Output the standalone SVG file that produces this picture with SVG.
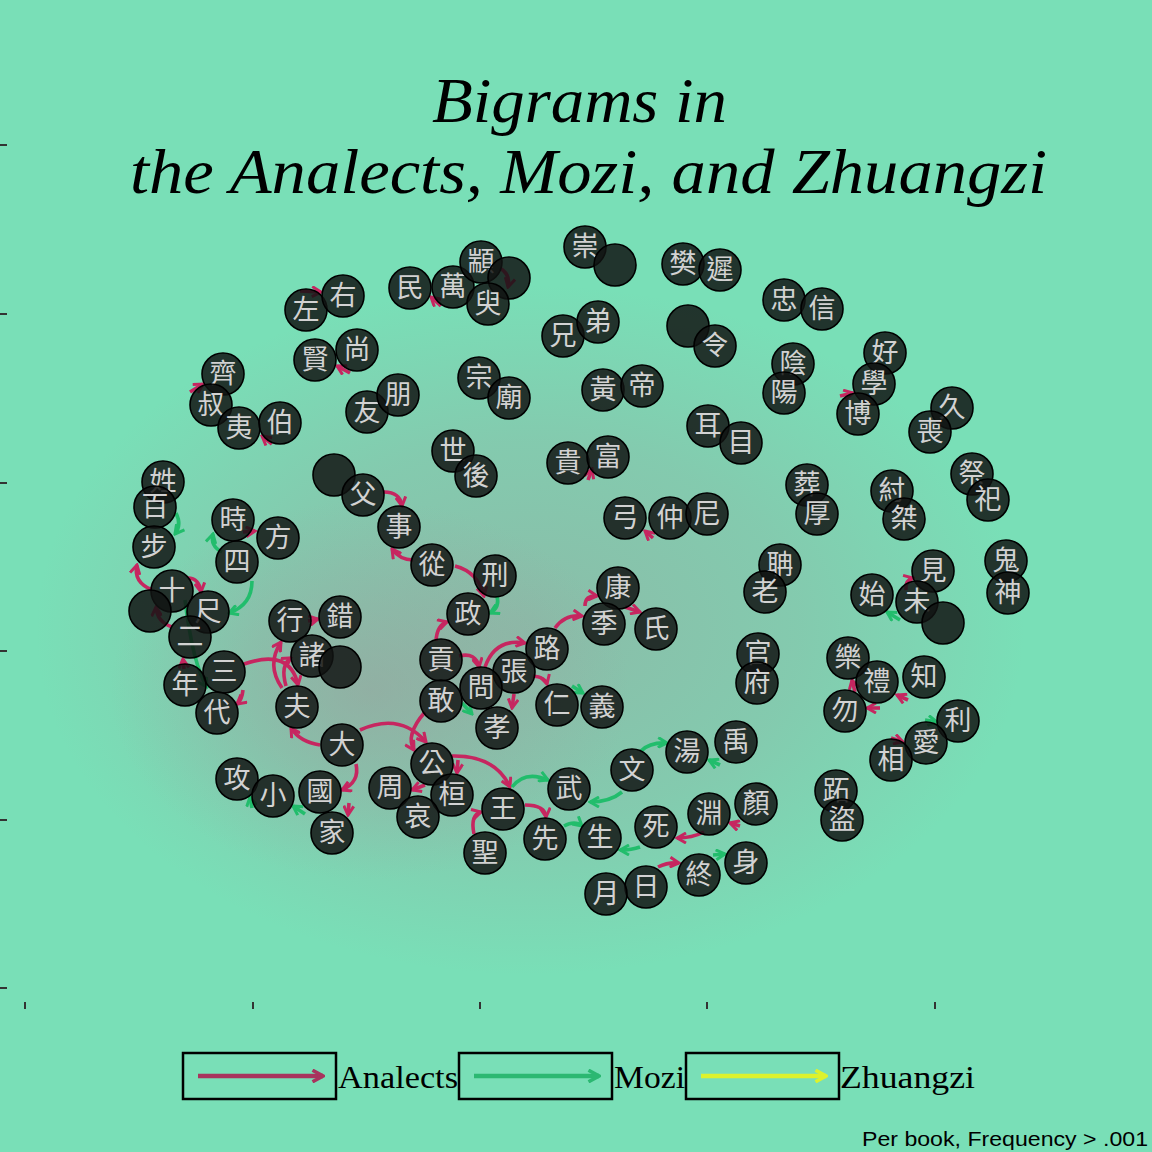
<svg xmlns="http://www.w3.org/2000/svg" width="1152" height="1152" viewBox="0 0 1152 1152">
<style>
.bg{fill:#79dfb7}
.n circle{fill:#111312;fill-opacity:0.84;stroke:#000;stroke-width:1.6}
.n text{font-family:"Noto Sans CJK TC","Noto Sans CJK JP",sans-serif;font-size:27px;fill:#d2d2d2;text-anchor:middle}
.e path{fill:none;stroke-width:3.6}
.e .r{stroke:#c62660;marker-end:url(#ar)}
.e .g{stroke:#22bd6c;marker-end:url(#ag)}
.title{font-family:"Liberation Serif","DejaVu Serif",serif;font-style:italic;font-size:64px;fill:#000;text-anchor:start}
.leg{font-family:"Liberation Serif","DejaVu Serif",serif;font-size:31px;fill:#000}
.box{fill:none;stroke:#000;stroke-width:2.5}
.tick{stroke:#333;stroke-width:2}
</style>
<defs>
<marker id="ar" viewBox="0 0 12 12" refX="10" refY="6" markerWidth="12" markerHeight="12" markerUnits="userSpaceOnUse" orient="auto"><path d="M1,1 L10,6 L1,11" fill="none" stroke="#c62660" stroke-width="3"/></marker>
<marker id="ag" viewBox="0 0 12 12" refX="10" refY="6" markerWidth="12" markerHeight="12" markerUnits="userSpaceOnUse" orient="auto"><path d="M1,1 L10,6 L1,11" fill="none" stroke="#22bd6c" stroke-width="3"/></marker>
<marker id="lr" viewBox="0 0 12 12" refX="10" refY="6" markerWidth="14" markerHeight="14" markerUnits="userSpaceOnUse" orient="auto"><path d="M1,1 L10,6 L1,11" fill="none" stroke="#a8345e" stroke-width="3"/></marker>
<marker id="lg" viewBox="0 0 12 12" refX="10" refY="6" markerWidth="14" markerHeight="14" markerUnits="userSpaceOnUse" orient="auto"><path d="M1,1 L10,6 L1,11" fill="none" stroke="#2cb872" stroke-width="3"/></marker>
<marker id="ly" viewBox="0 0 12 12" refX="10" refY="6" markerWidth="14" markerHeight="14" markerUnits="userSpaceOnUse" orient="auto"><path d="M1,1 L10,6 L1,11" fill="none" stroke="#ddf22c" stroke-width="3"/></marker>
<radialGradient id="sh1" cx="0.5" cy="0.5" r="0.5">
<stop offset="0" stop-color="#9c9a9a" stop-opacity="0.5"/>
<stop offset="0.55" stop-color="#9c9a9a" stop-opacity="0.3"/>
<stop offset="1" stop-color="#9c9a9a" stop-opacity="0"/>
</radialGradient>
<radialGradient id="sh2" cx="0.5" cy="0.5" r="0.5">
<stop offset="0" stop-color="#9c9a9a" stop-opacity="0.5"/>
<stop offset="1" stop-color="#9c9a9a" stop-opacity="0"/>
</radialGradient>
</defs>
<rect class="bg" x="0" y="0" width="1152" height="1152"/>
<ellipse cx="530" cy="630" rx="495" ry="345" fill="url(#sh1)"/>
<ellipse cx="370" cy="690" rx="260" ry="190" fill="url(#sh2)"/>

<g id="axes">
<line class="tick" x1="0" y1="145" x2="7" y2="145"/>
<line class="tick" x1="0" y1="314" x2="7" y2="314"/>
<line class="tick" x1="0" y1="483" x2="7" y2="483"/>
<line class="tick" x1="0" y1="651" x2="7" y2="651"/>
<line class="tick" x1="0" y1="820" x2="7" y2="820"/>
<line class="tick" x1="0" y1="988" x2="7" y2="988"/>
<line class="tick" x1="25" y1="1002" x2="25" y2="1009"/>
<line class="tick" x1="253" y1="1002" x2="253" y2="1009"/>
<line class="tick" x1="480" y1="1002" x2="480" y2="1009"/>
<line class="tick" x1="707" y1="1002" x2="707" y2="1009"/>
<line class="tick" x1="935" y1="1002" x2="935" y2="1009"/>
</g>

<g id="title">
<text class="title" x="432" y="122" textLength="295" lengthAdjust="spacingAndGlyphs">Bigrams in</text>
<text class="title" x="130" y="193" textLength="917" lengthAdjust="spacingAndGlyphs">the Analects, Mozi, and Zhuangzi</text>
</g>

<g id="connectors" class="e">
<path class="r" d="M300 291 L321 292"/>
<path class="r" d="M350 373 L337 366"/>
<path class="r" d="M190 392 L203 384"/>
<path class="r" d="M272 444 L262 436"/>
<path class="r" d="M441 306 L431 297"/>
<path class="r" d="M500 268 Q511 275 508 287"/>
<path class="r" d="M840 396 L853 393"/>
<path class="r" d="M243 532 L255 531"/>
<path class="r" d="M152 590 Q133 582 137 565"/>
<path class="r" d="M188 578 Q199 578 201 592"/>
<path class="r" d="M172 627 Q157 622 156 607"/>
<path class="r" d="M184 669 L183 659"/>
<path class="r" d="M244 664 Q290 648 298 685"/>
<path class="r" d="M282 688 Q266 665 281 642"/>
<path class="r" d="M286 686 Q280 665 291 658"/>
<path class="r" d="M308 621 L318 619"/>
<path class="r" d="M384 492 Q400 492 402 506"/>
<path class="r" d="M413 560 Q400 560 392 549"/>
<path class="r" d="M243 690 Q242 700 237 704"/>
<path class="r" d="M588 480 L592 469"/>
<path class="r" d="M653 538 L645 531"/>
<path class="r" d="M455 566 Q478 572 484 596"/>
<path class="r" d="M436 641 Q437 625 447 622"/>
<path class="r" d="M459 656 Q476 652 479 667"/>
<path class="r" d="M485 667 Q495 638 525 643"/>
<path class="r" d="M555 628 Q565 614 582 616"/>
<path class="r" d="M585 606 Q585 595 597 596"/>
<path class="r" d="M625 607 L640 612"/>
<path class="r" d="M533 676 Q545 677 547 684"/>
<path class="r" d="M514 694 L512 708"/>
<path class="r" d="M906 590 Q905 580 913 578"/>
<path class="r" d="M855 692 L852 680"/>
<path class="r" d="M908 700 L897 695"/>
<path class="r" d="M880 708 L867 708"/>
<path class="r" d="M891 738 L903 742"/>
<path class="r" d="M320 745 Q300 742 291 728"/>
<path class="r" d="M360 730 Q400 712 426 742"/>
<path class="r" d="M425 712 Q405 735 414 750"/>
<path class="r" d="M356 764 Q360 782 342 790"/>
<path class="r" d="M349 803 L348 815"/>
<path class="r" d="M458 760 L457 773"/>
<path class="r" d="M425 785 L412 790"/>
<path class="r" d="M474 834 Q470 815 481 812"/>
<path class="r" d="M452 756 Q495 755 510 787"/>
<path class="r" d="M525 805 Q545 805 546 817"/>
<path class="r" d="M704 832 Q692 838 677 838"/>
<path class="r" d="M740 826 L730 823"/>
<path class="r" d="M658 867 Q668 862 679 863"/>
<path class="g" d="M176 513 Q182 525 175 534"/>
<path class="g" d="M222 552 Q210 546 213 534"/>
<path class="g" d="M252 581 Q252 605 229 613"/>
<path class="g" d="M185 600 Q193 665 207 687"/>
<path class="g" d="M497 596 Q500 608 490 613"/>
<path class="g" d="M572 686 L583 693"/>
<path class="g" d="M462 703 L472 714"/>
<path class="g" d="M900 620 L887 612"/>
<path class="g" d="M925 720 L937 722"/>
<path class="g" d="M305 814 L293 806"/>
<path class="g" d="M252 808 L250 797"/>
<path class="g" d="M512 787 Q525 770 548 780"/>
<path class="g" d="M564 826 Q575 820 582 826"/>
<path class="g" d="M622 792 Q610 802 590 802"/>
<path class="g" d="M641 751 Q650 742 667 743"/>
<path class="g" d="M720 765 L709 760"/>
<path class="g" d="M640 847 Q632 850 620 850"/>
<path class="g" d="M713 855 L725 854"/>
</g>

<g id="nodes">
<g id="n-zuo" class="n"><circle cx="306" cy="310" r="21"/><text x="306" y="319">左</text></g>
<g id="n-you" class="n"><circle cx="343" cy="296" r="21"/><text x="343" y="305">右</text></g>
<g id="n-min" class="n"><circle cx="410" cy="288" r="21"/><text x="410" y="297">民</text></g>
<g id="n-wan" class="n"><circle cx="453" cy="287" r="21"/><text x="453" y="296">萬</text></g>
<g id="n-zhuan" class="n"><circle cx="481" cy="262" r="21"/><text x="481" y="271">顓</text></g>
<g id="n-u1" class="n"><circle cx="509" cy="278" r="21"/></g>
<g id="n-yu" class="n"><circle cx="488" cy="304" r="21"/><text x="488" y="313">臾</text></g>
<g id="n-chong" class="n"><circle cx="585" cy="247" r="21"/><text x="585" y="256">崇</text></g>
<g id="n-u2" class="n"><circle cx="615" cy="265" r="21"/></g>
<g id="n-fan" class="n"><circle cx="683" cy="264" r="21"/><text x="683" y="273">樊</text></g>
<g id="n-chi" class="n"><circle cx="720" cy="270" r="21"/><text x="720" y="279">遲</text></g>
<g id="n-xiong" class="n"><circle cx="563" cy="336" r="21"/><text x="563" y="345">兄</text></g>
<g id="n-di" class="n"><circle cx="598" cy="322" r="21"/><text x="598" y="331">弟</text></g>
<g id="n-u3" class="n"><circle cx="688" cy="326" r="21"/></g>
<g id="n-ling" class="n"><circle cx="715" cy="346" r="21"/><text x="715" y="355">令</text></g>
<g id="n-zhong" class="n"><circle cx="784" cy="300" r="21"/><text x="784" y="309">忠</text></g>
<g id="n-xin" class="n"><circle cx="822" cy="309" r="21"/><text x="822" y="318">信</text></g>
<g id="n-xian" class="n"><circle cx="315" cy="360" r="21"/><text x="315" y="369">賢</text></g>
<g id="n-shang" class="n"><circle cx="357" cy="350" r="21"/><text x="357" y="359">尚</text></g>
<g id="n-zong" class="n"><circle cx="479" cy="378" r="21"/><text x="479" y="387">宗</text></g>
<g id="n-miao" class="n"><circle cx="509" cy="398" r="21"/><text x="509" y="407">廟</text></g>
<g id="n-huang" class="n"><circle cx="603" cy="390" r="21"/><text x="603" y="399">黃</text></g>
<g id="n-dik" class="n"><circle cx="642" cy="386" r="21"/><text x="642" y="395">帝</text></g>
<g id="n-yin" class="n"><circle cx="793" cy="364" r="21"/><text x="793" y="373">陰</text></g>
<g id="n-yang" class="n"><circle cx="784" cy="393" r="21"/><text x="784" y="402">陽</text></g>
<g id="n-hao" class="n"><circle cx="885" cy="353" r="21"/><text x="885" y="362">好</text></g>
<g id="n-xue" class="n"><circle cx="874" cy="384" r="21"/><text x="874" y="393">學</text></g>
<g id="n-bo" class="n"><circle cx="858" cy="414" r="21"/><text x="858" y="423">博</text></g>
<g id="n-qi" class="n"><circle cx="223" cy="374" r="21"/><text x="223" y="383">齊</text></g>
<g id="n-shu" class="n"><circle cx="211" cy="405" r="21"/><text x="211" y="414">叔</text></g>
<g id="n-yi" class="n"><circle cx="239" cy="428" r="21"/><text x="239" y="437">夷</text></g>
<g id="n-bai" class="n"><circle cx="280" cy="423" r="21"/><text x="280" y="432">伯</text></g>
<g id="n-youf" class="n"><circle cx="367" cy="412" r="21"/><text x="367" y="421">友</text></g>
<g id="n-peng" class="n"><circle cx="398" cy="395" r="21"/><text x="398" y="404">朋</text></g>
<g id="n-er" class="n"><circle cx="708" cy="426" r="21"/><text x="708" y="435">耳</text></g>
<g id="n-mu" class="n"><circle cx="741" cy="443" r="21"/><text x="741" y="452">目</text></g>
<g id="n-jiu" class="n"><circle cx="952" cy="408" r="21"/><text x="952" y="417">久</text></g>
<g id="n-sang" class="n"><circle cx="930" cy="432" r="21"/><text x="930" y="441">喪</text></g>
<g id="n-shi" class="n"><circle cx="453" cy="451" r="21"/><text x="453" y="460">世</text></g>
<g id="n-hou" class="n"><circle cx="476" cy="476" r="21"/><text x="476" y="485">後</text></g>
<g id="n-gui" class="n"><circle cx="568" cy="463" r="21"/><text x="568" y="472">貴</text></g>
<g id="n-fu" class="n"><circle cx="608" cy="457" r="21"/><text x="608" y="466">富</text></g>
<g id="n-xing" class="n"><circle cx="163" cy="482" r="21"/><text x="163" y="491">姓</text></g>
<g id="n-baix" class="n"><circle cx="155" cy="507" r="21"/><text x="155" y="516">百</text></g>
<g id="n-bu" class="n"><circle cx="154" cy="547" r="21"/><text x="154" y="556">步</text></g>
<g id="n-shis" class="n"><circle cx="233" cy="520" r="21"/><text x="233" y="529">時</text></g>
<g id="n-fang" class="n"><circle cx="278" cy="538" r="21"/><text x="278" y="547">方</text></g>
<g id="n-si" class="n"><circle cx="237" cy="562" r="21"/><text x="237" y="571">四</text></g>
<g id="n-u4" class="n"><circle cx="334" cy="475" r="21"/></g>
<g id="n-fuq" class="n"><circle cx="363" cy="495" r="21"/><text x="363" y="504">父</text></g>
<g id="n-shiw" class="n"><circle cx="399" cy="527" r="21"/><text x="399" y="536">事</text></g>
<g id="n-gong" class="n"><circle cx="625" cy="518" r="21"/><text x="625" y="527">弓</text></g>
<g id="n-zhongn" class="n"><circle cx="670" cy="518" r="21"/><text x="670" y="527">仲</text></g>
<g id="n-ni" class="n"><circle cx="707" cy="514" r="21"/><text x="707" y="523">尼</text></g>
<g id="n-zang" class="n"><circle cx="807" cy="485" r="21"/><text x="807" y="494">葬</text></g>
<g id="n-houh" class="n"><circle cx="817" cy="514" r="21"/><text x="817" y="523">厚</text></g>
<g id="n-zhou" class="n"><circle cx="892" cy="491" r="21"/><text x="892" y="500">紂</text></g>
<g id="n-jie" class="n"><circle cx="904" cy="519" r="21"/><text x="904" y="528">桀</text></g>
<g id="n-ji" class="n"><circle cx="972" cy="474" r="21"/><text x="972" y="483">祭</text></g>
<g id="n-si2" class="n"><circle cx="988" cy="500" r="21"/><text x="988" y="509">祀</text></g>
<g id="n-shi10" class="n"><circle cx="172" cy="591" r="21"/><text x="172" y="600">十</text></g>
<g id="n-u5" class="n"><circle cx="150" cy="611" r="21"/></g>
<g id="n-chi2" class="n"><circle cx="208" cy="612" r="21"/><text x="208" y="621">尺</text></g>
<g id="n-er2" class="n"><circle cx="190" cy="637" r="21"/><text x="190" y="646">二</text></g>
<g id="n-san" class="n"><circle cx="224" cy="672" r="21"/><text x="224" y="681">三</text></g>
<g id="n-nian" class="n"><circle cx="185" cy="685" r="21"/><text x="185" y="694">年</text></g>
<g id="n-dai" class="n"><circle cx="217" cy="713" r="21"/><text x="217" y="722">代</text></g>
<g id="n-xingx" class="n"><circle cx="290" cy="621" r="21"/><text x="290" y="630">行</text></g>
<g id="n-cuo" class="n"><circle cx="340" cy="617" r="21"/><text x="340" y="626">錯</text></g>
<g id="n-zhu" class="n"><circle cx="312" cy="656" r="21"/><text x="312" y="665">諸</text></g>
<g id="n-u6" class="n"><circle cx="340" cy="667" r="21"/></g>
<g id="n-cong" class="n"><circle cx="432" cy="565" r="21"/><text x="432" y="574">從</text></g>
<g id="n-xingp" class="n"><circle cx="495" cy="576" r="21"/><text x="495" y="585">刑</text></g>
<g id="n-zheng" class="n"><circle cx="468" cy="614" r="21"/><text x="468" y="623">政</text></g>
<g id="n-kang" class="n"><circle cx="618" cy="588" r="21"/><text x="618" y="597">康</text></g>
<g id="n-jis" class="n"><circle cx="604" cy="624" r="21"/><text x="604" y="633">季</text></g>
<g id="n-shiz" class="n"><circle cx="656" cy="629" r="21"/><text x="656" y="638">氏</text></g>
<g id="n-dan" class="n"><circle cx="780" cy="565" r="21"/><text x="780" y="574">聃</text></g>
<g id="n-lao" class="n"><circle cx="765" cy="592" r="21"/><text x="765" y="601">老</text></g>
<g id="n-guig" class="n"><circle cx="1006" cy="561" r="21"/><text x="1006" y="570">鬼</text></g>
<g id="n-shen" class="n"><circle cx="1008" cy="593" r="21"/><text x="1008" y="602">神</text></g>
<g id="n-jian" class="n"><circle cx="933" cy="571" r="21"/><text x="933" y="580">見</text></g>
<g id="n-shic" class="n"><circle cx="872" cy="595" r="21"/><text x="872" y="604">始</text></g>
<g id="n-wei" class="n"><circle cx="917" cy="602" r="21"/><text x="917" y="611">未</text></g>
<g id="n-u7" class="n"><circle cx="943" cy="623" r="21"/></g>
<g id="n-guan" class="n"><circle cx="758" cy="654" r="21"/><text x="758" y="663">官</text></g>
<g id="n-fuf" class="n"><circle cx="757" cy="683" r="21"/><text x="757" y="692">府</text></g>
<g id="n-yue" class="n"><circle cx="848" cy="658" r="21"/><text x="848" y="667">樂</text></g>
<g id="n-li" class="n"><circle cx="877" cy="682" r="21"/><text x="877" y="691">禮</text></g>
<g id="n-zhi" class="n"><circle cx="924" cy="677" r="21"/><text x="924" y="686">知</text></g>
<g id="n-wu" class="n"><circle cx="845" cy="711" r="21"/><text x="845" y="720">勿</text></g>
<g id="n-lil" class="n"><circle cx="958" cy="721" r="21"/><text x="958" y="730">利</text></g>
<g id="n-ai" class="n"><circle cx="926" cy="743" r="21"/><text x="926" y="752">愛</text></g>
<g id="n-xiang" class="n"><circle cx="891" cy="760" r="21"/><text x="891" y="769">相</text></g>
<g id="n-zhi2" class="n"><circle cx="836" cy="791" r="21"/><text x="836" y="800">跖</text></g>
<g id="n-dao" class="n"><circle cx="842" cy="820" r="21"/><text x="842" y="829">盜</text></g>
<g id="n-lu" class="n"><circle cx="547" cy="649" r="21"/><text x="547" y="658">路</text></g>
<g id="n-gongg" class="n"><circle cx="441" cy="660" r="21"/><text x="441" y="669">貢</text></g>
<g id="n-zhang" class="n"><circle cx="514" cy="672" r="21"/><text x="514" y="681">張</text></g>
<g id="n-wen" class="n"><circle cx="481" cy="688" r="21"/><text x="481" y="697">問</text></g>
<g id="n-gan" class="n"><circle cx="441" cy="701" r="21"/><text x="441" y="710">敢</text></g>
<g id="n-ren" class="n"><circle cx="557" cy="705" r="21"/><text x="557" y="714">仁</text></g>
<g id="n-yiy" class="n"><circle cx="602" cy="707" r="21"/><text x="602" y="716">義</text></g>
<g id="n-xiao" class="n"><circle cx="497" cy="728" r="21"/><text x="497" y="737">孝</text></g>
<g id="n-fuh" class="n"><circle cx="297" cy="707" r="21"/><text x="297" y="716">夫</text></g>
<g id="n-da" class="n"><circle cx="342" cy="745" r="21"/><text x="342" y="754">大</text></g>
<g id="n-gongk" class="n"><circle cx="237" cy="779" r="21"/><text x="237" y="788">攻</text></g>
<g id="n-xiaos" class="n"><circle cx="273" cy="796" r="21"/><text x="273" y="805">小</text></g>
<g id="n-guo" class="n"><circle cx="320" cy="792" r="21"/><text x="320" y="801">國</text></g>
<g id="n-jia" class="n"><circle cx="332" cy="833" r="21"/><text x="332" y="842">家</text></g>
<g id="n-zhouz" class="n"><circle cx="390" cy="788" r="21"/><text x="390" y="797">周</text></g>
<g id="n-gongp" class="n"><circle cx="432" cy="764" r="21"/><text x="432" y="773">公</text></g>
<g id="n-huan" class="n"><circle cx="452" cy="795" r="21"/><text x="452" y="804">桓</text></g>
<g id="n-aih" class="n"><circle cx="418" cy="817" r="21"/><text x="418" y="826">哀</text></g>
<g id="n-wang" class="n"><circle cx="503" cy="809" r="21"/><text x="503" y="818">王</text></g>
<g id="n-sheng" class="n"><circle cx="485" cy="853" r="21"/><text x="485" y="862">聖</text></g>
<g id="n-wuw" class="n"><circle cx="569" cy="789" r="21"/><text x="569" y="798">武</text></g>
<g id="n-wenw" class="n"><circle cx="632" cy="770" r="21"/><text x="632" y="779">文</text></g>
<g id="n-tang" class="n"><circle cx="687" cy="752" r="21"/><text x="687" y="761">湯</text></g>
<g id="n-yuy" class="n"><circle cx="736" cy="742" r="21"/><text x="736" y="751">禹</text></g>
<g id="n-xian2" class="n"><circle cx="545" cy="839" r="21"/><text x="545" y="848">先</text></g>
<g id="n-shengs" class="n"><circle cx="600" cy="838" r="21"/><text x="600" y="847">生</text></g>
<g id="n-si3" class="n"><circle cx="656" cy="827" r="21"/><text x="656" y="836">死</text></g>
<g id="n-yuan" class="n"><circle cx="709" cy="814" r="21"/><text x="709" y="823">淵</text></g>
<g id="n-yan" class="n"><circle cx="756" cy="804" r="21"/><text x="756" y="813">顏</text></g>
<g id="n-zhongz" class="n"><circle cx="699" cy="875" r="21"/><text x="699" y="884">終</text></g>
<g id="n-shens" class="n"><circle cx="746" cy="863" r="21"/><text x="746" y="872">身</text></g>
<g id="n-ri" class="n"><circle cx="646" cy="887" r="21"/><text x="646" y="896">日</text></g>
<g id="n-yuem" class="n"><circle cx="606" cy="894" r="21"/><text x="606" y="903">月</text></g>
</g>

<g id="legend">
<rect class="box" x="183" y="1053" width="153" height="46"/>
<line x1="198" y1="1076" x2="323" y2="1076" stroke="#a8345e" stroke-width="4.5" marker-end="url(#lr)"/>
<text class="leg" x="338" y="1088" textLength="120" lengthAdjust="spacingAndGlyphs">Analects</text>
<rect class="box" x="459" y="1053" width="153" height="46"/>
<line x1="474" y1="1076" x2="599" y2="1076" stroke="#2cb872" stroke-width="4.5" marker-end="url(#lg)"/>
<text class="leg" x="614" y="1088" textLength="71" lengthAdjust="spacingAndGlyphs">Mozi</text>
<rect class="box" x="686" y="1053" width="153" height="46"/>
<line x1="701" y1="1076" x2="826" y2="1076" stroke="#ddf22c" stroke-width="4.5" marker-end="url(#ly)"/>
<text class="leg" x="840" y="1088" textLength="135" lengthAdjust="spacingAndGlyphs">Zhuangzi</text>
</g>
<text x="1148" y="1146" font-family="Liberation Sans, Arial, sans-serif" font-size="21" text-anchor="end" fill="#000" textLength="286" lengthAdjust="spacingAndGlyphs">Per book, Frequency &gt; .001</text>
</svg>
